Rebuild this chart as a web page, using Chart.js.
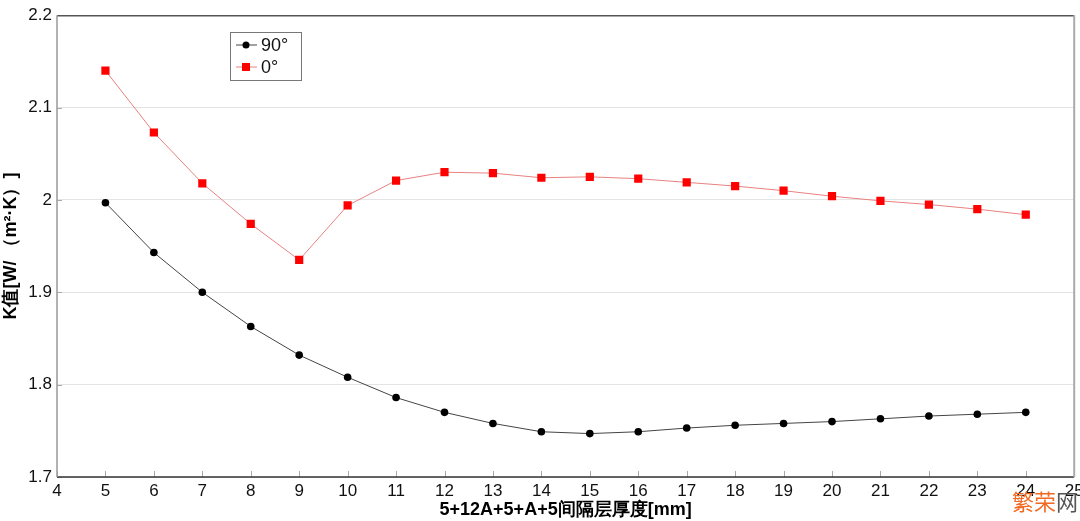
<!DOCTYPE html>
<html>
<head>
<meta charset="utf-8">
<script src="https://cdn.jsdelivr.net/npm/chart.js@4"></script>
<style>
  html, body { margin: 0; padding: 0; background: #fff; }
  #wrap { width: 1080px; height: 521px; }
</style>
</head>
<body>
<div id="wrap"><canvas id="chart"></canvas></div>
<script>
// Thickness values [mm]
const thickness = [5, 6, 7, 8, 9, 10, 11, 12, 13, 14, 15, 16, 17, 18, 19, 20, 21, 22, 23, 24];
// K values for 90 degree
const k90 = [1.997, 1.943, 1.900, 1.863, 1.832, 1.808, 1.786, 1.770, 1.758, 1.749, 1.747, 1.749, 1.753, 1.756, 1.758, 1.760, 1.763, 1.766, 1.768, 1.770];
// K values for 0 degree
const k0 = [2.140, 2.073, 2.018, 1.974, 1.935, 1.994, 2.021, 2.030, 2.029, 2.024, 2.025, 2.023, 2.019, 2.015, 2.010, 2.004, 1.999, 1.995, 1.990, 1.984];

const seriesNames = ['90°', '0°'];
const xTitle = '5+12A+5+A+5间隔层厚度[mm]';
const yTitle = 'K值[W/ （m²·K）]';
const fontFamily = '"Liberation Sans", Arial, sans-serif';

// Frame, inward ticks, legend box and watermark
const framePlugin = {
    id: 'frame',
    afterDraw(chart) {
        const ctx = chart.ctx;
        const a = chart.chartArea;
        const xs = chart.scales.x;
        const ys = chart.scales.y;
        ctx.save();

        // inward ticks on the bottom axis
        ctx.strokeStyle = '#aaa';
        ctx.lineWidth = 1;
        for (let v = 4; v <= 25; v++) {
            const px = Math.round(xs.getPixelForValue(v)) + 0.5;
            ctx.beginPath();
            ctx.moveTo(px, a.bottom);
            ctx.lineTo(px, a.bottom - 6);
            ctx.stroke();
        }
        // inward ticks on the left axis
        for (let v = 1.7; v <= 2.21; v += 0.1) {
            const py = Math.round(ys.getPixelForValue(v)) + 0.5;
            ctx.beginPath();
            ctx.moveTo(a.left, py);
            ctx.lineTo(a.left + 5, py);
            ctx.stroke();
        }

        // borders
        ctx.lineWidth = 1.5;
        ctx.strokeStyle = '#555';
        ctx.beginPath();
        ctx.moveTo(a.left, a.top + 0.5);
        ctx.lineTo(a.right, a.top + 0.5);
        ctx.stroke();
        ctx.strokeStyle = '#333';
        ctx.beginPath();
        ctx.moveTo(a.left, a.bottom);
        ctx.lineTo(a.right, a.bottom);
        ctx.stroke();
        ctx.strokeStyle = '#999';
        ctx.lineWidth = 1.5;
        ctx.beginPath();
        ctx.moveTo(a.left, a.top);
        ctx.lineTo(a.left, a.bottom);
        ctx.stroke();
        ctx.strokeStyle = '#aaa';
        ctx.lineWidth = 2;
        ctx.beginPath();
        ctx.moveTo(a.right, a.top);
        ctx.lineTo(a.right, a.bottom);
        ctx.stroke();

        // legend
        const lx = 230, ly = 32, lw = 71, lh = 48;
        ctx.fillStyle = '#fff';
        ctx.fillRect(lx, ly, lw, lh);
        ctx.strokeStyle = '#777';
        ctx.lineWidth = 1;
        ctx.strokeRect(lx + 0.5, ly + 0.5, lw, lh);
        chart.data.datasets.forEach((ds, i) => {
            const cy = ly + 13 + i * 22;
            ctx.strokeStyle = ds.borderColor;
            ctx.lineWidth = 1;
            ctx.beginPath();
            ctx.moveTo(lx + 6, cy);
            ctx.lineTo(lx + 27, cy);
            ctx.stroke();
            ctx.fillStyle = ds.pointBackgroundColor;
            if (ds.pointStyle === 'rect') {
                ctx.fillRect(lx + 12, cy - 4, 8, 8);
            } else {
                ctx.beginPath();
                ctx.arc(lx + 16, cy, 3.5, 0, Math.PI * 2);
                ctx.fill();
            }
            ctx.fillStyle = '#111';
            ctx.font = '18px ' + fontFamily;
            ctx.textBaseline = 'middle';
            ctx.textAlign = 'left';
            ctx.fillText(ds.label, lx + 31, cy + 1);
        });

        // watermark
        ctx.font = '22px "Noto Sans CJK SC", sans-serif';
        ctx.textBaseline = 'middle';
        ctx.textAlign = 'left';
        ctx.fillStyle = '#f26a21';
        ctx.fillText('繁荣', 1012, 502);
        ctx.fillStyle = '#555';
        ctx.fillText('网', 1056, 502);
        ctx.restore();
    }
};

new Chart(document.getElementById('chart'), {
    type: 'line',
    data: {
        datasets: [
            {
                label: seriesNames[0],
                data: thickness.map((x, i) => ({ x: x, y: k90[i] })),
                borderColor: '#444',
                borderWidth: 1,
                pointStyle: 'circle',
                pointRadius: 3.8,
                pointBackgroundColor: '#000',
                pointBorderWidth: 0,
                tension: 0
            },
            {
                label: seriesNames[1],
                data: thickness.map((x, i) => ({ x: x, y: k0[i] })),
                borderColor: '#e98080',
                borderWidth: 1,
                pointStyle: 'rect',
                pointRadius: 5.8,
                pointBackgroundColor: '#ff0000',
                pointBorderWidth: 0,
                tension: 0
            }
        ]
    },
    options: {
        responsive: true,
        maintainAspectRatio: false,
        animation: false,
        layout: { padding: { top: 12, right: 4, left: 0, bottom: 0 } },
        plugins: {
            legend: { display: false },
            tooltip: { enabled: false }
        },
        scales: {
            x: {
                type: 'linear',
                min: 4,
                max: 25,
                afterFit: s => {
                    s.height = 44;
                    s.paddingLeft = 0;
                    s.paddingRight = 0;
                },
                border: { display: false },
                grid: { display: false, drawTicks: false, tickLength: 0 },
                ticks: {
                    stepSize: 1,
                    padding: 4,
                    color: '#111',
                    font: { family: fontFamily, size: 17 }
                },
                title: {
                    display: true,
                    text: xTitle,
                    color: '#000',
                    padding: { top: 0, bottom: 0 },
                    font: { family: fontFamily, size: 18, weight: 'bold' }
                }
            },
            y: {
                min: 1.7,
                max: 2.2,
                afterFit: s => { s.width = 57; },
                border: { display: false },
                grid: {
                    color: '#e4e4e4',
                    lineWidth: 1,
                    drawTicks: false
                },
                ticks: {
                    stepSize: 0.1,
                    padding: 5,
                    color: '#111',
                    font: { family: fontFamily, size: 17 },
                    callback: v => String(Number(v.toFixed(1)))
                },
                title: {
                    display: true,
                    text: yTitle,
                    color: '#000',
                    padding: { top: 0, bottom: 0 },
                    font: { family: fontFamily, size: 18, weight: 'bold' }
                }
            }
        }
    },
    plugins: [framePlugin]
});
</script>
</body>
</html>
